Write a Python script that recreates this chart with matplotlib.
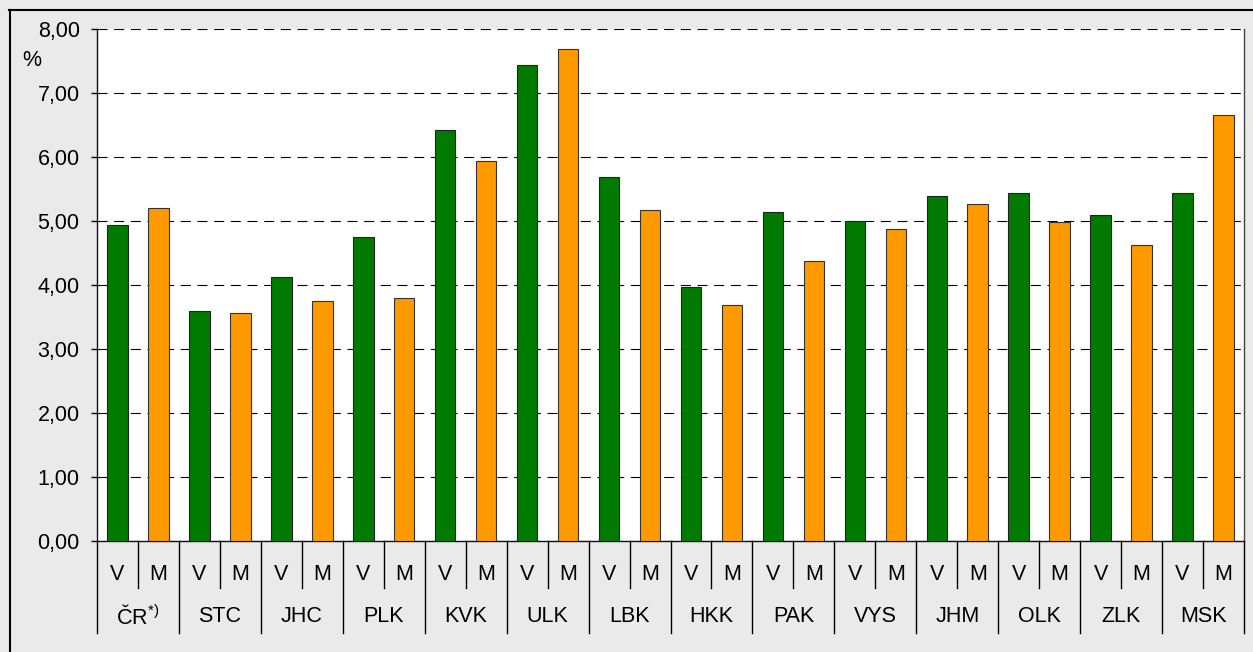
import matplotlib
matplotlib.use("Agg")
import matplotlib.pyplot as plt
from matplotlib.lines import Line2D
import matplotlib.transforms as mtransforms

regions = ["ČR", "STC", "JHC", "PLK", "KVK", "ULK", "LBK", "HKK", "PAK", "VYS", "JHM", "OLK", "ZLK", "MSK"]
sub_labels = ["V", "M"]
values_V = [4.94, 3.59, 4.12, 4.75, 6.42, 7.44, 5.69, 3.97, 5.14, 5.00, 5.39, 5.43, 5.09, 5.44]
values_M = [5.20, 3.57, 3.75, 3.80, 5.94, 7.69, 5.17, 3.69, 4.37, 4.88, 5.26, 4.99, 4.62, 6.66]
yticks = [0, 1, 2, 3, 4, 5, 6, 7, 8]
ytick_labels = ["0,00", "1,00", "2,00", "3,00", "4,00", "5,00", "6,00", "7,00", "8,00"]

plt.rcParams['font.family'] = ['Liberation Sans', 'DejaVu Sans']
plt.rcParams['mathtext.fontset'] = 'custom'
plt.rcParams['mathtext.rm'] = 'Liberation Sans'
plt.rcParams['mathtext.it'] = 'Liberation Sans'

FS = 15.5
W, H = 1253, 652
fig = plt.figure(figsize=(W / 100, H / 100), dpi=100, facecolor='#eaeaea')
L, R, T, B = 97, 1244, 29, 541
ax = fig.add_axes([L / W, (H - B) / H, (R - L) / W, (B - T) / H])
ax.set_facecolor('white')

green = '#007a00'
orange = '#ff9900'
n = len(regions)
xV = [2 * i for i in range(n)]
xM = [2 * i + 1 for i in range(n)]
ax.bar(xV, values_V, width=0.5, color=green, edgecolor='#222222', linewidth=0.8, zorder=3)
ax.bar(xM, values_M, width=0.5, color=orange, edgecolor='#333333', linewidth=0.8, zorder=3)

ax.set_xlim(-0.5, 2 * n - 0.5)
ax.set_ylim(0, 8)
ax.set_yticks(yticks)
ax.set_yticklabels(ytick_labels, fontsize=FS)
ax.set_xticks([])
ax.tick_params(axis='y', direction='out', length=4.5, width=1, pad=8, colors='black')
ax.yaxis.grid(True, color='black', linestyle=(0, (9, 6)), linewidth=0.8, zorder=1)
ax.set_axisbelow(True)
for s in ['left', 'bottom', 'right']:
    ax.spines[s].set_color('#111111')
    ax.spines[s].set_linewidth(1.0)
ax.spines['right'].set_color('#444444')
ax.spines['top'].set_visible(False)

# % label
fig.text(22 / W, 1 - 61 / H, '%', fontsize=FS, ha='left', va='center')

# category labels
trans = mtransforms.blended_transform_factory(ax.transData, ax.transAxes)
ah = B - T
y_sub = -(574 - B) / ah
y_grp = -(617 - B) / ah
y_sub_sep = -(588 - B) / ah
y_grp_sep = -(633 - B) / ah
for i in range(n):
    ax.text(xV[i], y_sub, sub_labels[0], transform=trans, ha='center', va='center', fontsize=FS)
    ax.text(xM[i], y_sub, sub_labels[1], transform=trans, ha='center', va='center', fontsize=FS)
    lab = regions[i]
    if i == 0:
        lab = 'ČR$^{*)}$'
    ax.text(2 * i + 0.5, y_grp, lab, transform=trans, ha='center', va='center', fontsize=FS)
    ax.add_line(Line2D([2 * i + 0.5, 2 * i + 0.5], [0, y_sub_sep], transform=trans,
                       color='black', linewidth=1.0, clip_on=False))
for k in range(n + 1):
    xs = 2 * k - 0.5
    ax.add_line(Line2D([xs, xs], [0, y_grp_sep], transform=trans,
                       color='black', linewidth=1.0, clip_on=False))

# outer frame (top and left visible)
fig.add_artist(Line2D([9.5 / W, 9.5 / W], [0, 1 - 10 / H], transform=fig.transFigure, color='black', linewidth=1.5))
fig.add_artist(Line2D([9 / W, 1], [1 - 10 / H, 1 - 10 / H], transform=fig.transFigure, color='black', linewidth=1.5))

fig.savefig('out.png', dpi=100, facecolor=fig.get_facecolor())
